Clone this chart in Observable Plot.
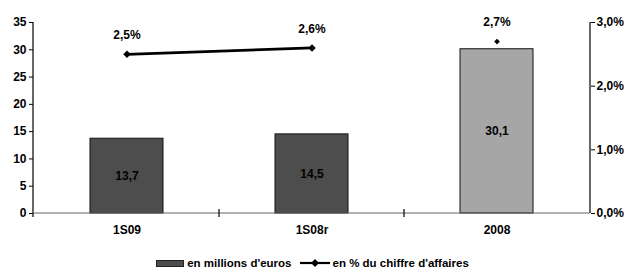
<!DOCTYPE html>
<html><head><meta charset="utf-8">
<script src="https://cdn.jsdelivr.net/npm/d3@7"></script>
<script src="https://cdn.jsdelivr.net/npm/@observablehq/plot@0.6"></script>
<style>
body{margin:0;background:#fff;font-family:"Liberation Sans",Arial,sans-serif;}
#chart svg{display:block;}
.legend{display:flex;justify-content:center;align-items:center;font:bold 11.5px "Liberation Sans",Arial,sans-serif;color:#000;margin-top:12px;margin-left:-6px;}
.legend .sq{width:26px;height:5px;background:#4d4d4d;border:1px solid #222;margin-right:3px;}
</style></head>
<body>
<div id="chart"></div>
<script>
const categories = ["1S09", "1S08r", "2008"];
const amounts = [13.7, 14.5, 30.1];
const percents = [2.5, 2.6, 2.7];
const linkedCategories = ["1S09", "1S08r"];
const leftTicks = [0, 5, 10, 15, 20, 25, 30, 35];
const rightTicks = [0, 1, 2, 3];
const yMax = 35, pctMax = 3;

const fr = v => d3.format(".1f")(v).replace(".", ",");
const toY = p => p / pctMax * yMax;
const rows = categories.map((c, i) => ({cat: c, amount: amounts[i], pct: percents[i], py: toY(percents[i])}));
const barFill = c => c === "2008" ? "#a6a6a6" : "#4d4d4d";

const chart = Plot.plot({
  width: 631, height: 245,
  marginLeft: 33, marginRight: 41, marginTop: 22, marginBottom: 32,
  style: {fontFamily: "Liberation Sans, Arial, sans-serif", fontSize: "12px", fontWeight: "bold", color: "#000", background: "#fff"},
  x: {type: "band", domain: categories, padding: 0},
  y: {domain: [0, yMax]},
  marks: [
    Plot.axisY({ticks: leftTicks, tickSize: 4, tickPadding: 3, label: null, stroke: "#000", strokeOpacity: 1, fill: "#000", fontWeight: "bold"}),
    Plot.axisY({anchor: "right", ticks: rightTicks.map(toY), tickFormat: t => fr(t / yMax * pctMax) + "%", tickSize: 4, tickPadding: 2, label: null, stroke: "#000", strokeOpacity: 1, fill: "#000", fontWeight: "bold"}),
    Plot.axisX({tickSize: 0, tickPadding: 12, label: null, fill: "#000", fontWeight: "bold"}),
    Plot.barY(rows, {x: "cat", y: "amount", fill: d => barFill(d.cat), stroke: "#111", strokeWidth: 1, insetLeft: 56, insetRight: 56}),
    Plot.text(rows, {x: "cat", y: d => d.amount / 2, text: d => fr(d.amount), fill: "#000", fontWeight: "bold"}),
    Plot.line(rows.filter(d => linkedCategories.includes(d.cat)), {x: "cat", y: "py", stroke: "#000", strokeWidth: 2.8}),
    Plot.dot(rows, {x: "cat", y: "py", symbol: "diamond2", r: d => linkedCategories.includes(d.cat) ? 5.4 : 3, fill: "#000", stroke: "none"}),
    Plot.text(rows, {x: "cat", y: "py", dy: -19, text: d => fr(d.pct) + "%", fill: "#000", fontWeight: "bold"})
  ]
});

// axis lines and category separators drawn from the chart's scales
const xs = chart.scale("x"), ys = chart.scale("y");
const [x0, x1] = xs.range, [yb, yt] = ys.range;
const g = d3.select(chart).append("g").attr("stroke", "#000").attr("stroke-width", 1.2);
g.append("line").attr("x1", x0).attr("x2", x0).attr("y1", yt).attr("y2", yb + 4);
g.append("line").attr("x1", x1).attr("x2", x1).attr("y1", yt).attr("y2", yb);
g.append("line").attr("x1", x0).attr("x2", x1).attr("y1", yb).attr("y2", yb).attr("stroke", "#666");
categories.slice(1).forEach(c => {
  const sx = xs.apply(c);
  g.append("line").attr("x1", sx).attr("x2", sx).attr("y1", yb - 4).attr("y2", yb + 4);
});
document.getElementById("chart").appendChild(chart);

const legend = document.createElement("div");
legend.className = "legend";
legend.innerHTML = '<span class="sq"></span><span>en millions d\'euros</span>' +
  '<svg width="30" height="10" style="margin:0 3px 0 8px"><line x1="0" x2="30" y1="5" y2="5" stroke="#000" stroke-width="2.2"/><path d="M15,1L19,5L15,9L11,5Z" fill="#000"/></svg>' +
  '<span>en % du chiffre d\'affaires</span>';
document.getElementById("chart").appendChild(legend);
</script>
</body></html>
